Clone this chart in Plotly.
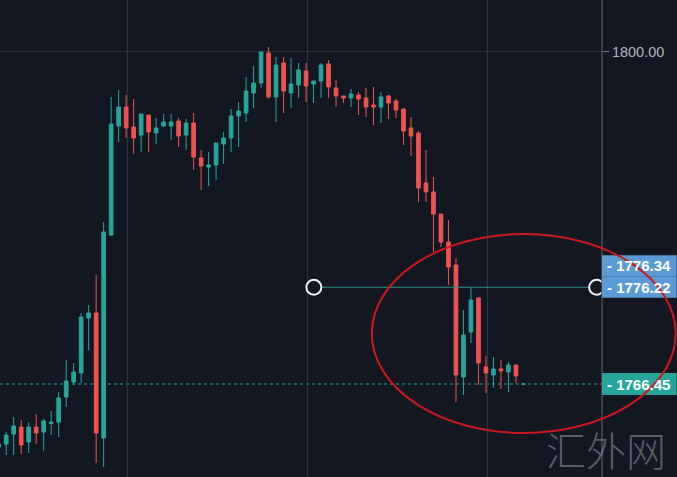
import plotly.graph_objects as go

# ---------------- data ----------------
opens = [1760.09, 1760.39, 1761.40, 1762.11, 1760.60, 1762.11, 1761.60, 1762.46, 1762.61, 1765.14,
         1766.65, 1767.56, 1773.11, 1773.62, 1761.00, 1781.49, 1792.50, 1794.42, 1792.40, 1791.59,
         1793.61, 1791.79, 1792.50, 1792.50, 1793.00, 1791.59, 1792.80, 1789.27, 1788.36, 1788.56,
         1790.68, 1791.29, 1793.51, 1793.81, 1795.83, 1796.84, 1799.87, 1795.43, 1798.86, 1795.83,
         1796.64, 1798.05, 1796.74, 1797.04, 1798.76, 1796.34, 1795.53, 1795.33, 1795.63, 1795.33,
         1794.62, 1794.42, 1795.53, 1795.02, 1794.21, 1792.30, 1791.79, 1786.74, 1785.84, 1783.61,
         1780.79, 1778.46, 1767.16, 1771.70, 1775.13, 1768.17, 1767.36, 1767.97, 1767.66, 1768.37,
         1766.43]
highs = [1760.49, 1761.60, 1763.12, 1762.82, 1762.61, 1763.42, 1762.92, 1763.72, 1765.64, 1768.87,
         1768.57, 1773.62, 1774.43, 1777.46, 1782.81, 1795.43, 1796.13, 1795.63, 1795.22, 1793.71,
         1793.61, 1793.31, 1793.71, 1793.71, 1793.31, 1793.21, 1793.81, 1790.08, 1789.87, 1790.78,
         1791.89, 1794.21, 1794.92, 1797.45, 1798.56, 1799.97, 1800.47, 1799.46, 1799.46, 1799.36,
         1798.86, 1798.86, 1797.04, 1798.86, 1799.16, 1797.14, 1795.53, 1796.23, 1795.93, 1796.34,
         1796.44, 1795.93, 1795.63, 1795.22, 1794.32, 1793.41, 1791.99, 1790.08, 1787.35, 1783.61,
         1783.01, 1779.17, 1773.92, 1776.22, 1775.23, 1769.28, 1769.18, 1768.87, 1768.67, 1768.37,
         1766.47]
lows = [1759.99, 1759.28, 1759.28, 1759.38, 1759.48, 1760.39, 1759.69, 1761.30, 1761.10, 1764.13,
        1766.35, 1766.55, 1769.88, 1758.47, 1758.07, 1781.39, 1790.88, 1791.29, 1789.67, 1789.87,
        1789.87, 1790.68, 1792.40, 1791.09, 1790.38, 1790.08, 1788.06, 1786.04, 1786.44, 1787.05,
        1788.66, 1789.87, 1790.38, 1792.90, 1794.32, 1796.34, 1795.22, 1792.90, 1793.81, 1794.32,
        1795.33, 1794.92, 1794.82, 1795.33, 1795.33, 1794.42, 1794.82, 1794.42, 1793.61, 1793.41,
        1792.60, 1792.80, 1793.21, 1793.31, 1790.58, 1789.47, 1784.83, 1784.83, 1779.78, 1780.28,
        1776.45, 1764.63, 1765.34, 1770.59, 1766.35, 1765.54, 1766.05, 1765.95, 1765.64, 1766.55,
        1766.42]
closes = [1760.39, 1761.30, 1762.21, 1760.29, 1762.11, 1761.50, 1762.72, 1762.61, 1765.04, 1766.75,
          1767.66, 1773.21, 1773.62, 1761.50, 1781.80, 1792.70, 1794.42, 1792.30, 1791.29, 1793.71,
          1791.89, 1792.30, 1792.90, 1792.90, 1791.49, 1792.80, 1789.37, 1788.46, 1788.56, 1790.78,
          1791.29, 1793.51, 1794.01, 1796.03, 1796.84, 1799.97, 1795.43, 1798.66, 1796.03, 1796.74,
          1798.15, 1796.54, 1797.04, 1798.66, 1796.44, 1795.53, 1795.33, 1795.73, 1795.22, 1794.42,
          1794.42, 1795.43, 1794.82, 1794.11, 1791.99, 1791.49, 1786.24, 1785.84, 1783.61, 1780.79,
          1778.26, 1767.36, 1771.40, 1774.93, 1768.57, 1767.56, 1767.97, 1767.76, 1768.37, 1767.26,
          1766.45]
bars = list(range(len(opens)))

grid_bars = [17.17, 41.17, 65.17]
price_ticks = [1800]
price_tick_text = ["1800.00"]
line_price = 1776.22
line_start_bar = 42.04
line_end_bar = 79.77
upper_label_price = 1776.34
last_price = 1766.45
watermark = "汇外网"

# ---------------- style ----------------
BG = "#131722"
GRID = "#2e323d"
UP = "#26a69a"
DOWN = "#ef5350"
W, H = 677, 477
PLOT_W = 602.3
Y_MIN, Y_MAX = 1757.06, 1805.22
X_MIN, X_MAX = 0.173, 80.48
PX = (Y_MAX - Y_MIN) / H   # price units per pixel

fig = go.Figure()

fig.add_trace(go.Candlestick(
    x=bars, open=opens, high=highs, low=lows, close=closes,
    increasing=dict(line=dict(color=UP, width=1), fillcolor=UP),
    decreasing=dict(line=dict(color=DOWN, width=1), fillcolor=DOWN),
    showlegend=False, hoverinfo="skip",
))

# horizontal line with end handles
fig.add_trace(go.Scatter(
    x=[line_start_bar, line_end_bar], y=[line_price, line_price],
    mode="lines", line=dict(color="#2b9488", width=1.2),
    showlegend=False, hoverinfo="skip",
))
fig.add_trace(go.Scatter(
    x=[line_start_bar, line_end_bar], y=[line_price, line_price],
    mode="markers",
    marker=dict(size=15, color=BG, line=dict(color="#f0f0f0", width=2)),
    showlegend=False, hoverinfo="skip", cliponaxis=True,
))

shapes = []
# last price dotted line
shapes.append(dict(type="line", xref="paper", x0=0, x1=1, yref="y", y0=last_price, y1=last_price,
                   line=dict(color=UP, width=1, dash="dot"), layer="below"))
# axis border
shapes.append(dict(type="line", xref="paper", x0=1, x1=1, yref="paper", y0=0, y1=1,
                   line=dict(color="#4a4e59", width=1.5)))

x_right = W / PLOT_W
half = 10.5 * PX
# price label boxes
boxes = [
    (line_price + half + 0.1 * PX, line_price + half + 21.5 * PX, "#5b9bd5", upper_label_price),
    (line_price - half, line_price + half, "#5b9bd5", line_price),
    (last_price - 11 * PX, last_price + 11 * PX, UP, last_price),
]
annotations = []
for y0, y1, col, val in boxes:
    shapes.append(dict(type="rect", xref="paper", x0=1.0, x1=x_right, yref="y", y0=y0, y1=y1,
                       fillcolor=col, line=dict(width=0), layer="above"))
    annotations.append(dict(xref="paper", yref="y", x=605 / PLOT_W, y=(y0 + y1) / 2,
                            text="- " + f"{val:.2f}", showarrow=False, xanchor="left",
                            yanchor="middle",
                            font=dict(family="Liberation Sans, Arial", size=15, color="#ffffff",
                                      weight="bold")))

# red ellipse highlight
shapes.append(dict(type="circle", xref="paper", yref="paper",
                   x0=372 / PLOT_W, x1=676 / PLOT_W, y0=1 - 433 / H, y1=1 - 234 / H,
                   line=dict(color="#cc171c", width=2), layer="above"))

annotations.append(dict(xref="paper", yref="paper", x=606 / PLOT_W, y=1 - 449 / H,
                        text=watermark, showarrow=False, xanchor="center", yanchor="middle",
                        font=dict(family="Noto Sans CJK SC", size=40, color="rgba(150,152,160,0.55)",
                                  weight=300)))

fig.update_layout(
    width=W, height=H,
    margin=dict(l=0, r=W - PLOT_W, t=0, b=0),
    paper_bgcolor=BG, plot_bgcolor=BG,
    shapes=shapes, annotations=annotations,
    boxgap=0.3,
    xaxis=dict(range=[X_MIN, X_MAX], rangeslider=dict(visible=False),
               tickvals=grid_bars, showticklabels=False, ticks="",
               showgrid=True, gridcolor=GRID, gridwidth=1, zeroline=False, showline=False,
               fixedrange=True),
    yaxis=dict(range=[Y_MIN, Y_MAX], side="right", tickvals=price_ticks, ticktext=price_tick_text,
               showgrid=True, gridcolor=GRID, gridwidth=1, zeroline=False, showline=False,
               ticks="outside", ticklen=6, tickcolor="#787b86",
               tickfont=dict(family="Liberation Sans, Arial", size=14.5, color="#b2b5be"),
               fixedrange=True),
)

fig.write_html("out.html", config={"displayModeBar": False},
               post_script="document.body.style.margin='0';document.body.style.background='#131722';")
